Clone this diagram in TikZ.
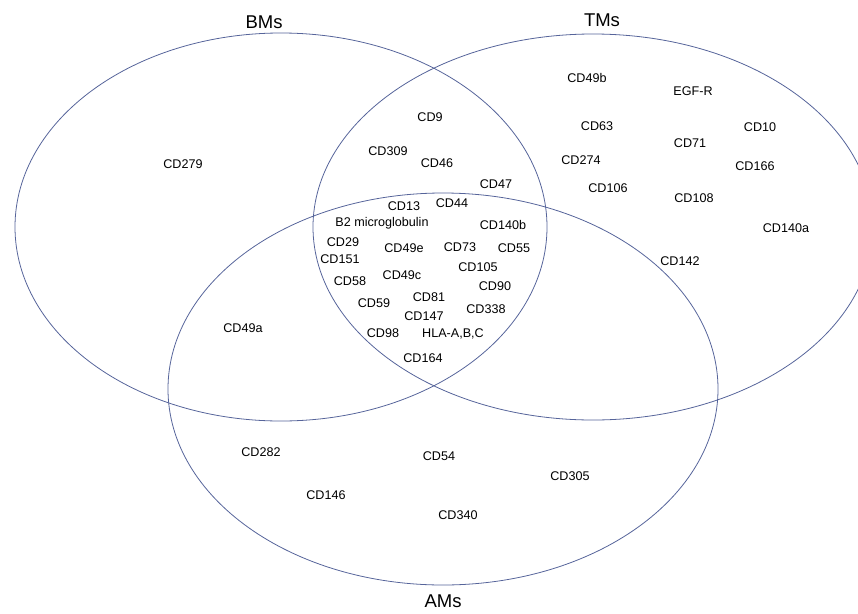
\documentclass[tikz,border=0pt]{standalone}
\usepackage{fontspec}
\setmainfont{Liberation Sans}
\definecolor{vennline}{HTML}{56649A}
\tikzset{
  setline/.style={draw=vennline, line width=.8pt},
  marker/.style={font=\fontsize{12.6}{14}\selectfont, inner sep=0pt},
  setname/.style={font=\fontsize{18.5}{20}\selectfont, inner sep=0pt}
}
\begin{document}
\begin{tikzpicture}[x=1pt,y=-1pt]
\useasboundingbox (0,0) rectangle (858,613);
% the three sets
\draw[setline] (281,227) ellipse [x radius=266pt, y radius=194pt]; % BMs
\draw[setline] (593,227) ellipse [x radius=280pt, y radius=193pt]; % TMs
\draw[setline] (443,389) ellipse [x radius=275pt, y radius=196pt]; % AMs
\node[setname] (bms) at (264,22) {BMs};
\node[setname] (tms) at (602,20) {TMs};
\node[setname] (ams) at (443,601) {AMs};
% BMs only, BMs and AMs
\node[marker] (cd279) at (183,164) {CD279};
\node[marker] (cd49a) at (243,328) {CD49a};
% BMs and TMs
\foreach \x/\y/\m [count=\i] in {430/117/CD9, 388/151/CD309, 437/163/CD46,
    496/184/CD47}
  \node[marker] (bt\i) at (\x,\y) {\m};
% all three
\foreach \x/\y/\m [count=\i] in {404/206/CD13, 452/203/CD44,
    382/223/B2 microglobulin, 503/225/CD140b, 343/242/CD29, 404/248/CD49e,
    460/247/CD73, 514/248/CD55, 340/259/CD151, 478/267/CD105, 350/281/CD58,
    402/275/CD49c, 495/286/CD90, 429/297/CD81, 374/303/CD59, 486/309/CD338,
    424/316/CD147, 383/333/CD98, 453/334/{HLA-A,B,C}, 423/358/CD164}
  \node[marker] (all\i) at (\x,\y) {\m};
% TMs only
\foreach \x/\y/\m [count=\i] in {587/78/CD49b, 693/91/EGF-R, 597/126/CD63,
    760/127/CD10, 690/143/CD71, 581/160/CD274, 755/166/CD166, 608/188/CD106,
    694/198/CD108, 786/228/CD140a, 680/261/CD142}
  \node[marker] (tm\i) at (\x,\y) {\m};
% AMs only
\foreach \x/\y/\m [count=\i] in {261/452/CD282, 439/456/CD54, 570/476/CD305,
    326/495/CD146, 458/515/CD340}
  \node[marker] (am\i) at (\x,\y) {\m};
\end{tikzpicture}
\end{document}
